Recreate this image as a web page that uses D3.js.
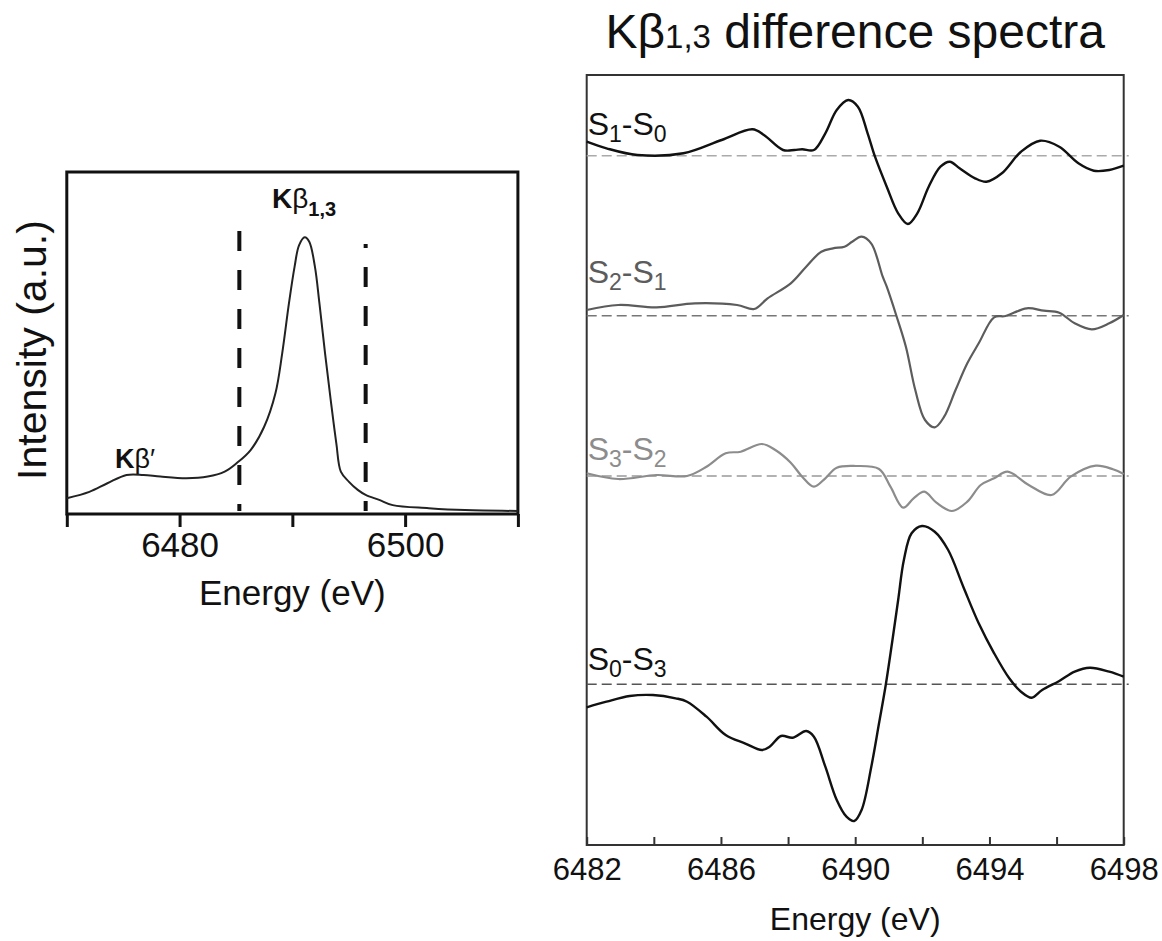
<!DOCTYPE html>
<html>
<head>
<meta charset="utf-8">
<script src="https://cdnjs.cloudflare.com/ajax/libs/d3/7.8.5/d3.min.js"></script>
<style>
	body { margin: 0; background: #fff; }
	svg text { font-family: "Liberation Sans", Arial, Helvetica, sans-serif; }
</style>
</head>
<body>
<svg id="chart" width="1162" height="941"></svg>
<script>
// Kbeta emission spectrum (left panel)
var kbEnergy = [6470.0, 6472.0, 6473.6, 6475.3, 6476.8, 6478.3, 6480.6, 6482.5, 6484.0, 6485.1, 6486.3, 6487.5, 6488.5, 6489.1, 6489.7, 6490.2, 6490.6, 6491.1, 6491.5, 6492.0, 6492.4, 6492.9, 6493.4, 6493.9, 6494.3, 6495.0, 6495.8, 6496.5, 6497.7, 6498.9, 6502.1, 6505.3, 6510.0];
var kbIntensity = [0.057, 0.080, 0.111, 0.141, 0.141, 0.135, 0.129, 0.135, 0.153, 0.185, 0.231, 0.315, 0.436, 0.580, 0.761, 0.893, 0.971, 0.999, 0.983, 0.893, 0.761, 0.580, 0.412, 0.255, 0.153, 0.117, 0.087, 0.069, 0.051, 0.032, 0.021, 0.014, 0.011];
var kbTicks = [6470, 6480, 6490, 6500, 6510];
var kbTickLabels = [6480, 6500];
var kbWindow = [6485.3, 6496.5];

// difference spectra (right panel), values in a.u.
var s1s0Energy = [6482.0, 6482.59, 6483.51, 6484.88, 6486.02, 6486.94, 6487.28, 6487.85, 6488.19, 6488.42, 6488.77, 6489.11, 6489.45, 6489.79, 6490.08, 6490.37, 6490.59, 6490.94, 6491.28, 6491.57, 6491.85, 6492.19, 6492.54, 6492.82, 6493.11, 6493.57, 6493.91, 6494.37, 6494.94, 6495.51, 6496.08, 6496.65, 6497.11, 6497.57, 6498.0];
var s1s0Value = [14, 7.4, 0.7, 2.4, 15.7, 26.4, 20.7, 5.7, 5.7, 6.4, 5.7, 22.4, 45.7, 55.7, 49, 22.4, -1, -31, -57.6, -68.3, -57.6, -31, -11, -6, -12.6, -22.6, -26, -17.6, 4, 15, 9, -7.6, -15, -14.3, -10];

var s2s1Energy = [6482.0, 6482.94, 6484.08, 6485.22, 6486.48, 6486.99, 6487.39, 6488.08, 6488.54, 6488.99, 6489.34, 6489.68, 6489.91, 6490.19, 6490.48, 6490.82, 6490.94, 6491.22, 6491.51, 6491.79, 6492.08, 6492.37, 6492.65, 6492.99, 6493.34, 6493.68, 6494.14, 6494.48, 6495.11, 6495.62, 6496.08, 6496.54, 6497.05, 6497.57, 6498.0];
var s2s1Value = [5.7, 10.7, 8.4, 12.4, 10.7, 6.7, 17.4, 32.4, 49, 64, 67.4, 69, 74, 79, 72, 39, 29, 0.7, -31, -74.3, -104.3, -111.6, -101, -74.3, -47.6, -27.6, -1.6, -0.3, 7.4, 5, 3, -7.6, -13.6, -7.6, 0.7];

var s3s2Energy = [6482.0, 6482.94, 6484.08, 6484.99, 6485.57, 6486.14, 6486.59, 6487.22, 6487.62, 6488.08, 6488.42, 6488.77, 6489.11, 6489.45, 6490.02, 6490.71, 6491.05, 6491.43, 6491.74, 6492.06, 6492.42, 6492.88, 6493.34, 6493.74, 6494.14, 6494.54, 6495.17, 6495.85, 6496.42, 6497.17, 6497.68, 6498.0];
var s3s2Value = [2.7, -3, 1, 0, 9.3, 22.7, 24.3, 32, 26, 13.3, -0.7, -10.7, -2.3, 8.3, 10, 7, -10.7, -31.7, -22.3, -15.7, -26.7, -35, -25.7, -9, -2.3, 4.3, -9, -19, -0.7, 10.3, 6.7, 2];

var s0s3Energy = [6482.0, 6482.59, 6483.28, 6483.97, 6484.65, 6484.99, 6485.57, 6486.14, 6486.71, 6487.22, 6487.45, 6487.79, 6488.14, 6488.54, 6488.77, 6489.11, 6489.45, 6489.74, 6489.97, 6490.19, 6490.48, 6490.71, 6490.91, 6491.11, 6491.28, 6491.45, 6491.68, 6491.99, 6492.37, 6492.77, 6493.22, 6493.68, 6494.14, 6494.59, 6494.94, 6495.26, 6495.57, 6496.08, 6496.54, 6496.99, 6497.57, 6498.0];
var s0s3Value = [-23, -17.4, -11.7, -10.7, -14, -17.4, -32.4, -50.7, -59, -65.7, -62.4, -51.7, -53.4, -46.7, -52.4, -82.4, -115.7, -132.4, -136.7, -125.7, -82.4, -39, -0.7, 44.3, 84.3, 124.3, 151, 158.3, 152.6, 134.3, 97.6, 61, 31, 6, -7.4, -13.4, -5.7, 3.3, 12.6, 16.6, 12.6, 7.6];

var diffNames = [['S', '1', 'S', '0'], ['S', '2', 'S', '1'], ['S', '3', 'S', '2'], ['S', '0', 'S', '3']];
var diffOffsets = [689.3, 529.3, 369, 160.7];
var diffTicks = [6482, 6484, 6486, 6488, 6490, 6492, 6494, 6496, 6498];
var diffTickLabels = [6482, 6486, 6490, 6494, 6498];

var svg = d3.select('#chart');

// ---------- left panel ----------
var L = {left: 66.8, right: 517.9, top: 172, bottom: 514};

var xL = d3.scaleLinear().domain([6470, 6510]).range([L.left, L.right]);
var yL = d3.scaleLinear().domain([0, 1.2347]).range([L.bottom, L.top]);

var gL = svg.append('g');

gL.append('rect')
	.attr('x', L.left).attr('y', L.top)
	.attr('width', L.right - L.left).attr('height', L.bottom - L.top)
	.attr('fill', 'none').attr('stroke', '#111').attr('stroke-width', 3);

var axL = gL.append('g')
	.attr('transform', 'translate(0,' + L.bottom + ')')
	.call(d3.axisBottom(xL).tickValues(kbTicks).tickSizeInner(13).tickSizeOuter(0).tickPadding(5)
		.tickFormat(function(d) { return kbTickLabels.indexOf(d) > -1 ? d : ''; }));
axL.select('.domain').remove();
axL.selectAll('line').attr('stroke', '#111').attr('stroke-width', 3);
axL.selectAll('text').attr('font-size', 35).attr('fill', '#111').style('font-family', '"Liberation Sans", Arial, sans-serif');

// integration window
gL.selectAll('.window')
	.data(kbWindow)
	.enter().append('line')
	.attr('class', 'window')
	.attr('x1', function(d) { return xL(d); })
	.attr('x2', function(d) { return xL(d); })
	.attr('y1', function(d, i) { return i === 0 ? 231 : 244; })
	.attr('y2', 511)
	.attr('stroke', '#111')
	.attr('stroke-width', 4)
	.attr('stroke-dasharray', '20,19')
	.attr('stroke-dashoffset', function(d, i) { return i === 0 ? 0 : 16; });

var lineL = d3.line()
	.x(function(d) { return xL(d[0]); })
	.y(function(d) { return yL(d[1]); })
	.curve(d3.curveCatmullRom.alpha(0.5));

gL.append('path')
	.attr('d', lineL(d3.zip(kbEnergy, kbIntensity)))
	.attr('fill', 'none')
	.attr('stroke', '#222')
	.attr('stroke-width', 2);

var kb13 = gL.append('text').attr('x', 272).attr('y', 208).attr('font-size', 28).attr('fill', '#111');
kb13.append('tspan').attr('font-weight', 'bold').text('K');
kb13.append('tspan').text('\u03b2');
kb13.append('tspan').attr('font-weight', 'bold').attr('font-size', 20).attr('dy', 8).text('1,3');

var kbp = gL.append('text').attr('x', 115).attr('y', 468).attr('font-size', 27).attr('fill', '#111');
kbp.append('tspan').attr('font-weight', 'bold').text('K');
kbp.append('tspan').text('\u03b2\u2032');

gL.append('text')
	.attr('x', (L.left + L.right) / 2).attr('y', 605)
	.attr('text-anchor', 'middle').attr('font-size', 35).attr('fill', '#111')
	.text('Energy (eV)');

gL.append('text')
	.attr('transform', 'translate(46,350) rotate(-90)')
	.attr('text-anchor', 'middle').attr('font-size', 41).attr('fill', '#111')
	.text('Intensity (a.u.)');

// ---------- right panel ----------
var R = {left: 586.7, right: 1123.7, top: 75, bottom: 845};

var xR = d3.scaleLinear().domain([6482, 6498]).range([R.left, R.right]);
var yR = d3.scaleLinear().domain([0, 770]).range([R.bottom, R.top]);

var gR = svg.append('g');

gR.append('rect')
	.attr('x', R.left).attr('y', R.top)
	.attr('width', R.right - R.left).attr('height', R.bottom - R.top)
	.attr('fill', 'none').attr('stroke', '#333').attr('stroke-width', 2);

var axR = gR.append('g')
	.attr('transform', 'translate(0,' + R.bottom + ')')
	.call(d3.axisBottom(xR).tickValues(diffTicks).tickSizeInner(-8).tickSizeOuter(0).tickPadding(13)
		.tickFormat(function(d) { return diffTickLabels.indexOf(d) > -1 ? d : ''; }));
axR.select('.domain').remove();
axR.selectAll('line').attr('stroke', '#333').attr('stroke-width', 2);
axR.selectAll('text').attr('font-size', 31).attr('fill', '#111').style('font-family', '"Liberation Sans", Arial, sans-serif');

var series = [
	{E: s1s0Energy, V: s1s0Value, color: '#111', dash: '#aaa', width: 2.4, lift: 21},
	{E: s2s1Energy, V: s2s1Value, color: '#5c5c5c', dash: '#777', width: 2.2, lift: 33},
	{E: s3s2Energy, V: s3s2Value, color: '#8c8c8c', dash: '#999', width: 2.2, lift: 16},
	{E: s0s3Energy, V: s0s3Value, color: '#111', dash: '#555', width: 2.4, lift: 14}
];

series.forEach(function(s, i) {
	var off = diffOffsets[i];
	var lineR = d3.line()
		.x(function(d) { return xR(d[0]); })
		.y(function(d) { return yR(off + d[1]); })
		.curve(d3.curveCatmullRom.alpha(0.5));

	// zero line
	gR.append('line')
		.attr('x1', R.left).attr('x2', R.right + 5)
		.attr('y1', yR(off)).attr('y2', yR(off))
		.attr('stroke', s.dash).attr('stroke-width', 1.6)
		.attr('stroke-dasharray', '10,5');

	gR.append('path')
		.attr('d', lineR(d3.zip(s.E, s.V)))
		.attr('fill', 'none')
		.attr('stroke', s.color)
		.attr('stroke-width', s.width);

	var n = diffNames[i];
	var lbl = gR.append('text')
		.attr('x', R.left + 1).attr('y', yR(off) - s.lift)
		.attr('font-size', 32).attr('fill', s.color);
	lbl.append('tspan').text(n[0]);
	lbl.append('tspan').attr('font-size', 23).attr('dy', 7).text(n[1]);
	lbl.append('tspan').attr('dy', -7).text('-' + n[2]);
	lbl.append('tspan').attr('font-size', 23).attr('dy', 7).text(n[3]);
});

gR.append('text')
	.attr('x', (R.left + R.right) / 2).attr('y', 930)
	.attr('text-anchor', 'middle').attr('font-size', 32).attr('fill', '#111')
	.text('Energy (eV)');

var title = svg.append('text')
	.attr('x', (R.left + R.right) / 2).attr('y', 48)
	.attr('text-anchor', 'middle').attr('font-size', 48).attr('fill', '#111');
title.append('tspan').text('K\u03b2');
title.append('tspan').attr('font-size', 33).text('1,3');
title.append('tspan').text(' difference spectra');
</script>
</body>
</html>
